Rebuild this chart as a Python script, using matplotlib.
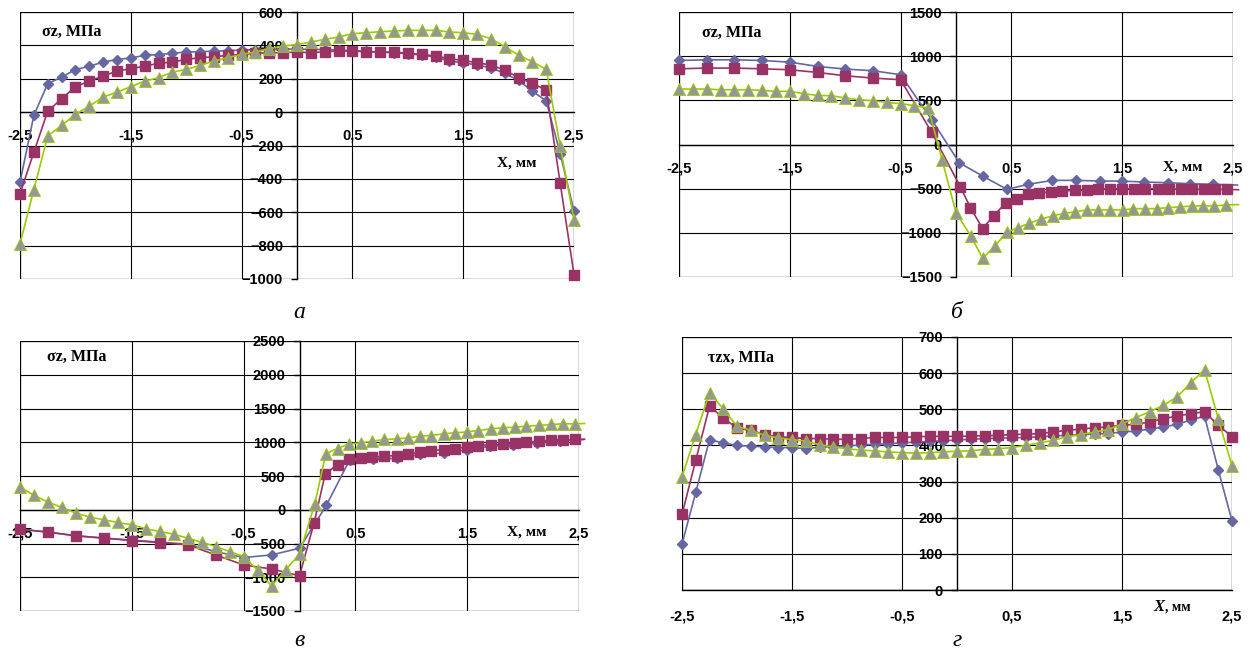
import numpy as np
import matplotlib
matplotlib.use("Agg")
import matplotlib.pyplot as plt
from matplotlib.patches import Rectangle

# ---------- data ----------
x41 = np.arange(41) * 0.125 - 2.5
x21 = np.arange(21) * 0.125 - 2.5
x_q = np.arange(9) * 0.25 - 2.5          # -2.5 .. -0.5
x_q11 = np.arange(11) * 0.25 - 2.5       # -2.5 .. 0

# panel а
a_blue = [-420, -20, 170, 210, 255, 275, 300, 315, 325, 340, 345, 352, 360, 362, 365, 368, 372, 374, 376, 377,
          378, 376, 375, 372, 368, 364, 360, 356, 350, 342, 330, 306, 296, 282, 266, 232, 190, 126, 66, -248, -594]
a_red = [-490, -240, 5, 80, 152, 186, 216, 246, 260, 276, 292, 300, 316, 326, 332, 340, 346, 352, 356, 356,
         360, 356, 362, 366, 366, 362, 360, 360, 352, 346, 336, 320, 310, 296, 282, 252, 206, 172, 132, -424, -974]
a_green = [-790, -464, -144, -80, -14, 36, 90, 120, 152, 186, 206, 240, 256, 280, 306, 326, 346, 360, 380, 396,
           405, 420, 436, 450, 470, 476, 482, 486, 490, 490, 490, 480, 476, 466, 440, 392, 342, 302, 256, -204, -644]

# panel б
b_blue_x = list(x_q) + [-0.22, 0.03, 0.24, 0.46, 0.65, 0.87, 1.08, 1.30, 1.50, 1.70, 1.91, 2.11, 2.32, 2.54]
b_blue = [951, 959, 959, 951, 932, 884, 854, 835, 790, 282, -207, -357, -508, -451, -406, -406, -414, -414,
          -425, -432, -444, -451, -459]
b_red_x = list(x_q) + [-0.22, 0.04, 0.13, 0.24, 0.34, 0.45, 0.55, 0.65, 0.75, 0.86, 0.96, 1.07, 1.18, 1.28,
                       1.39, 1.50, 1.61, 1.71, 1.82, 1.92, 2.03, 2.13, 2.24, 2.34, 2.45, 2.55]
b_red = [857, 865, 865, 857, 846, 816, 778, 752, 733, 139, -481, -714, -951, -808, -658, -613, -564, -545,
         -538, -526, -519, -519, -508, -500, -500, -500, -500, -500, -500, -508, -508, -508, -508, -508, -512]
b_green_x = list(x21) + [0.133, 0.241, 0.352, 0.457, 0.563, 0.662, 0.764, 0.872, 0.975, 1.074, 1.18, 1.285,
                         1.39, 1.504, 1.60, 1.706, 1.81, 1.917, 2.02, 2.127, 2.23, 2.33, 2.44, 2.55]
b_green = [628, 628, 628, 620, 620, 620, 613, 602, 602, 575, 556, 553, 526, 507, 496, 477, 462, 440, 413, -177,
           -771, -1034, -1290, -1147, -996, -940, -891, -846, -808, -778, -763, -741, -741, -741, -741, -726,
           -726, -726, -714, -707, -696, -696, -696, -684, -680]

# panel в
c_blue_x = list(x_q11) + [0.24, 0.45, 0.66, 0.87, 1.08, 1.29, 1.50, 1.70, 1.91, 2.12, 2.33, 2.54]
c_blue = [-290, -330, -385, -420, -450, -480, -510, -620, -708, -669, -570, 64, 743, 753, 760, 820, 840, 890,
          940, 965, 995, 1025, 1040]
c_red_x = list(x_q11) + [0.13, 0.23, 0.34, 0.44, 0.55, 0.65, 0.76, 0.87, 0.97, 1.08, 1.18, 1.29, 1.39, 1.50,
                         1.60, 1.71, 1.82, 1.93, 2.03, 2.14, 2.25, 2.36, 2.46, 2.55]
c_red = [-287, -332, -386, -421, -456, -486, -520, -669, -818, -877, -978, -198, 530, 669, 753, 768, 778, 793,
         803, 827, 852, 877, 892, 907, 932, 951, 966, 976, 991, 1001, 1016, 1026, 1031, 1041, 1045]
c_green_x = list(x21) + [0.137, 0.236, 0.34, 0.44, 0.55, 0.65, 0.76, 0.87, 0.97, 1.08, 1.18, 1.29, 1.39, 1.50,
                         1.60, 1.71, 1.82, 1.93, 2.03, 2.14, 2.25, 2.36, 2.46, 2.55]
c_green = [337, 213, 114, 35, -50, -109, -149, -188, -223, -282, -322, -362, -421, -481, -545, -619, -694, -892,
           -1130, -892, -660, 89, 832, 907, 976, 991, 1016, 1041, 1050, 1065, 1090, 1100, 1125, 1140, 1154, 1174,
           1199, 1214, 1224, 1239, 1249, 1263, 1273, 1273, 1278]

# panel г
d_blue = [127, 270, 416, 407, 400, 398, 396, 394, 394, 391, 395, 397, 399, 401, 403, 405, 407, 409, 411, 413,
          415, 417, 419, 420, 421, 422, 424, 426, 428, 430, 431, 433, 437, 440, 445, 451, 458, 470, 481, 333, 191]
d_red = [209, 359, 508, 477, 447, 442, 430, 424, 422, 419, 419, 417, 417, 419, 422, 422, 422, 424, 425, 425,
         425, 426, 427, 428, 430, 431, 433, 437, 442, 445, 449, 451, 456, 458, 465, 474, 481, 488, 493, 456, 424]
d_green = [313, 430, 546, 501, 453, 442, 428, 421, 416, 412, 402, 396, 391, 387, 385, 382, 380, 379, 380, 382,
           384, 385, 389, 391, 394, 400, 407, 414, 424, 430, 437, 444, 459, 477, 493, 511, 534, 573, 610, 474, 343]

xticks = [-2.5, -1.5, -0.5, 0.5, 1.5, 2.5]
xtick_labels = ["-2,5", "-1,5", "-0,5", "0,5", "1,5", "2,5"]

BLUE = "#6666A3"
PLUM = "#993366"
LIME = "#99CC00"
GREY = "#969696"

W, H = 1252, 655
fig = plt.figure(figsize=(W / 100, H / 100), dpi=100)


def make_ax(l, r, t, b):
    return fig.add_axes([l / W, 1 - b / H, (r - l) / W, (b - t) / H])


def style(ax, ylo, yhi, ystep, xpad):
    ax.set_xlim(-2.5, 2.5)
    ax.set_ylim(ylo, yhi)
    ax.set_yticks(np.arange(ylo, yhi + 1, ystep))
    ax.set_xticks(xticks)
    ax.set_xticklabels(xtick_labels)
    for s in ["top", "right"]:
        ax.spines[s].set_visible(False)
    ax.spines["left"].set_position(("data", 0))
    ax.spines["bottom"].set_position(("data", 0))
    for s in ["left", "bottom"]:
        ax.spines[s].set_color("black")
        ax.spines[s].set_linewidth(1.0)
    ax.add_patch(Rectangle((0, 0), 1, 1, transform=ax.transAxes, fill=False,
                           edgecolor="#808080", lw=1.0, zorder=0.5))
    ax.grid(True, color="black", lw=0.8)
    ax.set_axisbelow(True)
    ax.tick_params(axis="y", direction="out", length=4, width=1, pad=6, labelsize=10.5)
    ax.tick_params(axis="x", direction="out", length=0, pad=xpad, labelsize=10.5)
    for lab in ax.get_xticklabels() + ax.get_yticklabels():
        lab.set_fontweight("bold")
        lab.set_family("Liberation Sans")
    ax.set_facecolor("none")


def draw(ax, xb, yb, xr, yr, xg, yg, tails=False):
    # tails: last point only carries the line past the right border, no marker
    kw = dict(clip_on=False, zorder=3)
    mb = list(range(len(xb) - 1)) if tails else None
    mr = list(range(len(xr) - 1)) if tails else None
    mg = list(range(len(xg) - 1)) if tails else None
    ax.plot(xb, yb, color=BLUE, lw=1.2, marker="D", ms=5.5, mfc=BLUE, mec=BLUE, markevery=mb, **kw)
    ax.plot(xr, yr, color=PLUM, lw=1.2, marker="s", ms=6.5, mfc=PLUM, mec=PLUM, markevery=mr, **kw)
    ax.plot(xg, yg, color=LIME, lw=1.2, marker="^", ms=8.5, mfc=GREY, mec=LIME, mew=0.6, markevery=mg, **kw)


serif = "Liberation Serif"

# а
ax = make_ax(20, 574, 12, 279)
style(ax, -1000, 600, 200, 12)
draw(ax, x41, a_blue, x41, a_red, x41, a_green)
ax.text(0.04, 0.925, "σz, МПа", transform=ax.transAxes, family=serif, weight="bold", fontsize=11.5, va="center")
ax.text(0.897, 0.434, "X, мм", transform=ax.transAxes, family=serif, weight="bold", fontsize=11,
        va="center", ha="center")

# б
ax = make_ax(679, 1233, 12, 277)
style(ax, -1500, 1500, 500, 12)
draw(ax, b_blue_x, b_blue, b_red_x, b_red, b_green_x, b_green, tails=True)
ax.text(0.042, 0.92, "σz, МПа", transform=ax.transAxes, family=serif, weight="bold", fontsize=11.5, va="center")
ax.text(0.91, 0.415, "X, мм", transform=ax.transAxes, family=serif, weight="bold", fontsize=11,
        va="center", ha="center")

# в
ax = make_ax(20, 579, 341, 611)
style(ax, -1500, 2500, 500, 12)
draw(ax, c_blue_x, c_blue, c_red_x, c_red, c_green_x, c_green, tails=True)
ax.text(0.048, 0.94, "σz, МПа", transform=ax.transAxes, family=serif, weight="bold", fontsize=11.5, va="center")
ax.text(0.907, 0.293, "X, мм", transform=ax.transAxes, family=serif, weight="bold", fontsize=11,
        va="center", ha="center")

# г
ax = make_ax(682, 1232, 337, 590)
style(ax, 0, 700, 100, 14)
draw(ax, x41, d_blue, x41, d_red, x41, d_green)
ax.text(0.047, 0.917, "τzx, МПа", transform=ax.transAxes, family=serif, weight="bold", fontsize=11.5, va="center")
tx = ax.text(0.868, -0.067, "X", transform=ax.transAxes, family=serif, style="italic", weight="bold",
             fontsize=12, va="center", ha="center")
ax.annotate(", мм", xy=(1, 0.5), xycoords=tx, va="center", family=serif, weight="bold", fontsize=10)

# captions
for cx, cy, s in [(299, 313, "а"), (957, 313, "б"), (299, 640, "в"), (957, 640, "г")]:
    fig.text(cx / W, 1 - cy / H, s, family=serif, style="italic", fontsize=17, ha="center", va="center")

fig.savefig("out.png", dpi=100)
